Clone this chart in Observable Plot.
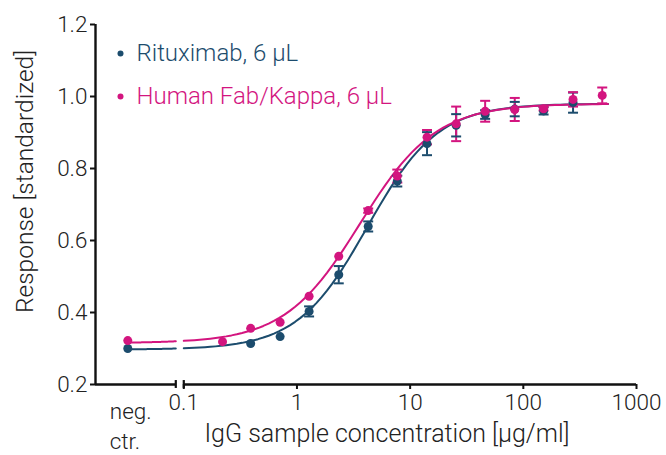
<!DOCTYPE html>
<html>
<head>
<meta charset="utf-8">
<script src="https://cdn.jsdelivr.net/npm/d3@7"></script>
<script src="https://cdn.jsdelivr.net/npm/@observablehq/plot@0.6"></script>
<style>
  body { margin: 0; background: #fff; }
  svg { font-family: Roboto, "Noto Sans", sans-serif; font-weight: 300; }
</style>
</head>
<body>
<div id="chart"></div>
<script>
// ---- data ----
const seriesNames = ["Rituximab, 6 μL", "Human Fab/Kappa, 6 μL"];
const seriesColors = ["#1c4c6d", "#d3157f"];
const negCtrPos = 0.032;            // where "neg. ctr." sits on the log axis
const concentrations = [0.22, 0.39, 0.71, 1.28, 2.34, 4.26, 7.7, 14.1, 25.5, 46, 84, 151, 275, 498];
const rituxNeg = 0.300;
const rituxValues = [null, 0.314, 0.333, 0.403, 0.505, 0.639, 0.765, 0.869, 0.920, 0.950, 0.965, 0.960, 0.983, null];
const rituxErrors = [null, 0, 0, 0.014, 0.024, 0.014, 0.015, 0.032, 0.031, 0.012, 0.020, 0.010, 0.028, null];
const fabNeg = 0.322;
const fabValues = [0.319, 0.356, 0.373, 0.445, 0.556, 0.683, 0.779, 0.887, 0.924, 0.959, 0.964, 0.966, 0.992, 1.003];
const fabErrors = [0, 0, 0, 0, 0, 0.006, 0.018, 0.020, 0.048, 0.029, 0.032, 0.005, 0.020, 0.022];
// 4-parameter logistic fit: [bottom, top, EC50, hill]
const rituxFit = [0.297, 0.980, 4.2, 1.4];
const fabFit = [0.315, 0.980, 3.62, 1.3];
const xTicks = [0.1, 1, 10, 100, 1000];
const yTicks = [0.2, 0.4, 0.6, 0.8, 1.0, 1.2];
const xDomain = [10 ** -1.78, 1000];
const yDomain = [0.2, 1.2];
const breakLeft = 0.085, breakRight = 0.1;
const curveEnd = 560;

// ---- build tables ----
const points = [];
const fits = [rituxFit, fabFit];
[[rituxNeg, rituxValues, rituxErrors], [fabNeg, fabValues, fabErrors]].forEach(([neg, vals, errs], s) => {
  points.push({series: seriesNames[s], x: negCtrPos, y: neg, e: 0});
  concentrations.forEach((c, i) => {
    if (vals[i] != null) points.push({series: seriesNames[s], x: c, y: vals[i], e: errs[i]});
  });
});
const logistic = ([b, t, ec, h], x) => b + (t - b) / (1 + Math.pow(ec / x, h));
const curve = [];
fits.forEach((p, s) => {
  [[negCtrPos, breakLeft], [breakRight, curveEnd]].forEach(([a, bnd], seg) => {
    const la = Math.log10(a), lb = Math.log10(bnd), n = 80;
    for (let k = 0; k <= n; k++) {
      const x = 10 ** (la + (lb - la) * k / n);
      curve.push({series: seriesNames[s], seg: s * 2 + seg, x, y: logistic(p, x)});
    }
  });
});
const errPts = points.filter(d => d.e > 0.004);
const cap = { draw(ctx, size) { const r = Math.sqrt(size / Math.PI); ctx.moveTo(-r, 0); ctx.lineTo(r, 0); } };
const color = {domain: seriesNames, range: seriesColors};
const axisColor = "#111";
const textColor = "#222";

const legendMarks = seriesNames.flatMap((name, i) => [
  Plot.dot([name], {frameAnchor: "top-left", dx: 25, dy: 29 + i * 43, r: 3, fill: seriesColors[i]}),
  Plot.text([name], {frameAnchor: "top-left", dx: 41, dy: 29 + i * 43, textAnchor: "start",
    lineAnchor: "middle", fontSize: 24, fill: seriesColors[i]})
]);

const chart = Plot.plot({
  width: 666, height: 455,
  marginLeft: 95, marginRight: 30, marginTop: 24, marginBottom: 71,
  x: {type: "log", domain: xDomain},
  y: {domain: yDomain},
  color,
  marks: [
    // axis lines (broken x axis)
    Plot.ruleX([xDomain[0]], {y1: yDomain[0], y2: yDomain[1], stroke: axisColor, strokeWidth: 2.4}),
    Plot.ruleY([yDomain[0]], {x1: xDomain[0], x2: breakLeft, stroke: axisColor, strokeWidth: 2.4}),
    Plot.ruleY([yDomain[0]], {x1: breakRight, x2: xDomain[1], stroke: axisColor, strokeWidth: 2.4}),
    Plot.ruleX([breakLeft, breakRight], {y1: 0.189, y2: 0.211, stroke: axisColor, strokeWidth: 2.2}),
    Plot.axisX({ticks: xTicks, tickFormat: d => String(d), tickSize: 5, tickPadding: 5, label: null,
      fontSize: 22.5, stroke: axisColor, strokeWidth: 2, color: textColor}),
    Plot.axisY({ticks: yTicks, tickFormat: d3.format(".1f"), tickSize: 5, tickPadding: 3, label: null,
      fontSize: 22.5, stroke: axisColor, strokeWidth: 2, color: textColor}),
    Plot.text(["neg.\nctr."], {x: [negCtrPos], frameAnchor: "bottom", textAnchor: "start", lineAnchor: "top",
      dx: -18, dy: 13, lineHeight: 1.35, fontSize: 22.5, fill: textColor}),
    Plot.text(["IgG sample concentration [μg/ml]"], {frameAnchor: "bottom", dx: 21, dy: 57, fontSize: 25, fill: textColor}),
    Plot.text(["Response [standardized]"], {frameAnchor: "left", textAnchor: "middle", rotate: -90, dx: -70, dy: -23,
      fontSize: 24.5, fill: textColor}),
    // fitted curves
    Plot.line(curve, {x: "x", y: "y", z: "seg", stroke: "series", strokeWidth: 2, curve: "linear"}),
    // error bars
    Plot.ruleX(errPts, {x: "x", y1: d => d.y - d.e, y2: d => d.y + d.e, stroke: "series", strokeWidth: 2}),
    Plot.dot(errPts, {x: "x", y: d => d.y + d.e, symbol: cap, r: 5, stroke: "series", strokeWidth: 2, fill: "none"}),
    Plot.dot(errPts, {x: "x", y: d => d.y - d.e, symbol: cap, r: 5, stroke: "series", strokeWidth: 2, fill: "none"}),
    // points
    Plot.dot(points, {x: "x", y: "y", r: 4.5, fill: "series"}),
    // legend
    ...legendMarks
  ]
});
document.getElementById("chart").appendChild(chart);
</script>
</body>
</html>
